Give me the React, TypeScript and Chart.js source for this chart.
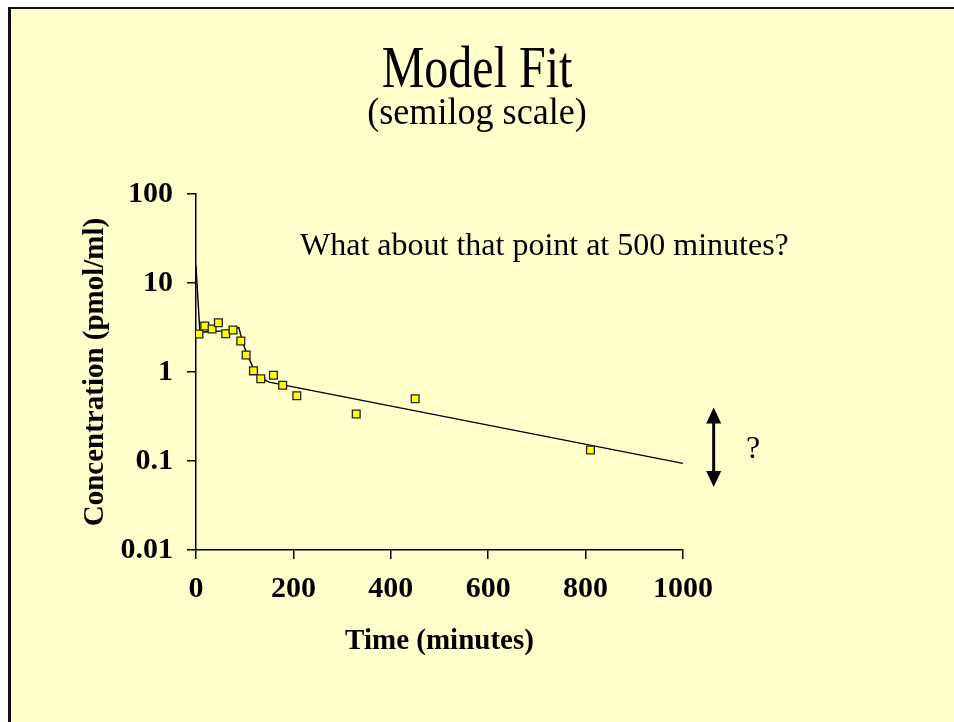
import React, { useEffect, useRef } from "react";
import { Chart, registerables } from "chart.js";

Chart.register(...registerables);

// Observed concentrations (pmol/ml) at sample times (minutes)
const TIME_OBS = [6, 18, 33, 46, 61, 76, 92, 103, 118, 133, 159, 178, 207, 329, 450, 810];
const CONC_OBS = [2.67, 3.29, 3.04, 3.58, 2.69, 2.96, 2.23, 1.55, 1.03, 0.84, 0.92, 0.71, 0.54, 0.337, 0.5, 0.133];

// Model fit curve
const TIME_FIT = [0, 8, 30, 60, 88, 92, 97, 104, 112, 120, 130, 140, 150, 1000];
const CONC_FIT = [15.5, 2.8, 2.85, 2.9, 3.15, 2.6, 2.05, 1.65, 1.3, 1.03, 0.9, 0.82, 0.77, 0.094];

// Axis ticks
const X_TICKS = [0, 200, 400, 600, 800, 1000];
const X_TICK_LABELS = ["0", "200", "400", "600", "800", "1000"];
const Y_TICKS = [0.01, 0.1, 1, 10, 100];
const Y_TICK_LABELS = ["0.01", "0.1", "1", "10", "100"];

const TITLE = "Model Fit";
const SUBTITLE = "(semilog scale)";
const NOTE = "What about that point at 500 minutes?";
const X_TITLE = "Time (minutes)";
const Y_TITLE = "Concentration (pmol/ml)";

// Double arrow annotation (data units)
const ARROW_X = 1063;
const ARROW_TOP = 0.4;
const ARROW_BOTTOM = 0.051;

const SERIF = "'Liberation Serif', 'Times New Roman', Times, serif";

function condensedText(ctx: any, text: string, x: number, y: number, sx: number) {
  ctx.save();
  ctx.translate(x, y);
  ctx.scale(sx, 1);
  ctx.fillText(text, 0, 0);
  ctx.restore();
}

const textPlugin = {
  id: "slideText",
  afterDraw(chart: any) {
    const ctx = chart.ctx;
    const xs = chart.scales.x;
    const ys = chart.scales.y;
    ctx.save();
    ctx.fillStyle = "#000";
    ctx.textBaseline = "alphabetic";
    ctx.textAlign = "center";
    ctx.font = `60px ${SERIF}`;
    condensedText(ctx, TITLE, 477, 87, 0.8);
    ctx.font = `38px ${SERIF}`;
    condensedText(ctx, SUBTITLE, 477, 124, 0.95);
    ctx.textAlign = "left";
    ctx.font = `32px ${SERIF}`;
    ctx.fillText(NOTE, 300, 255);
    // arrow
    const ax = xs.getPixelForValue(ARROW_X);
    const at = ys.getPixelForValue(ARROW_TOP);
    const ab = ys.getPixelForValue(ARROW_BOTTOM);
    ctx.strokeStyle = "#000";
    ctx.lineWidth = 3;
    ctx.beginPath();
    ctx.moveTo(ax, at + 10);
    ctx.lineTo(ax, ab - 10);
    ctx.stroke();
    ctx.beginPath();
    ctx.moveTo(ax, at);
    ctx.lineTo(ax - 7.5, at + 16);
    ctx.lineTo(ax + 7.5, at + 16);
    ctx.closePath();
    ctx.fill();
    ctx.beginPath();
    ctx.moveTo(ax, ab);
    ctx.lineTo(ax - 7.5, ab - 16);
    ctx.lineTo(ax + 7.5, ab - 16);
    ctx.closePath();
    ctx.fill();
    ctx.font = `32px ${SERIF}`;
    ctx.fillText("?", 746, 458);
    ctx.restore();
  },
};

export default function App() {
  const ref = useRef<HTMLCanvasElement | null>(null);

  useEffect(() => {
    document.body.style.margin = "0";
    const canvas = ref.current;
    if (!canvas) return;
    const chart = new Chart(canvas, {
      type: "scatter",
      data: {
        datasets: [
          {
            label: "Observed",
            data: TIME_OBS.map((t, i) => ({ x: t, y: CONC_OBS[i] })),
            pointStyle: "rect",
            pointRadius: 5.5,
            backgroundColor: "#FFFF00",
            borderColor: "#222",
            borderWidth: 1.3,
            showLine: false,
          },
          {
            label: "Model",
            data: TIME_FIT.map((t, i) => ({ x: t, y: CONC_FIT[i] })),
            showLine: true,
            pointRadius: 0,
            borderColor: "#000",
            borderWidth: 1.4,
            tension: 0,
          },
        ],
      },
      options: {
        animation: false,
        responsive: false,
        devicePixelRatio: 1,
        layout: { padding: { left: 0, right: 271, top: 194, bottom: 0 } },
        plugins: {
          legend: { display: false },
          tooltip: { enabled: false },
          title: { display: false },
        },
        scales: {
          x: {
            type: "linear",
            min: 0,
            max: 1000,
            afterBuildTicks: (s: any) => {
              s.ticks = X_TICKS.map((v) => ({ value: v }));
            },
            afterFit: (s: any) => {
              s.height = 172;
            },
            ticks: {
              color: "#000",
              font: { family: SERIF, size: 30, weight: "bold" },
              padding: 12,
              maxRotation: 0,
              autoSkip: false,
              callback: (v: any) => {
                const i = X_TICKS.indexOf(Number(v));
                return i >= 0 ? X_TICK_LABELS[i] : "";
              },
            },
            grid: { drawOnChartArea: false, drawTicks: true, tickLength: 9, color: "#000", lineWidth: 1.5 },
            border: { color: "#000", width: 1.5 },
            title: {
              display: true,
              text: X_TITLE,
              color: "#000",
              font: { family: SERIF, size: 29, weight: "bold" },
              padding: { top: 0, bottom: 63 },
            },
          },
          y: {
            type: "logarithmic",
            min: 0.01,
            max: 100,
            afterBuildTicks: (s: any) => {
              s.ticks = Y_TICKS.map((v) => ({ value: v }));
            },
            afterFit: (s: any) => {
              s.width = 196;
            },
            ticks: {
              color: "#000",
              font: { family: SERIF, size: 30, weight: "bold" },
              padding: 14,
              autoSkip: false,
              callback: (v: any) => {
                const i = Y_TICKS.findIndex((t) => Math.abs(t - Number(v)) < 1e-9);
                return i >= 0 ? Y_TICK_LABELS[i] : "";
              },
            },
            grid: { drawOnChartArea: false, drawTicks: true, tickLength: 9, color: "#000", lineWidth: 1.5 },
            border: { color: "#000", width: 1.5 },
            title: {
              display: true,
              text: Y_TITLE,
              color: "#000",
              font: { family: SERIF, size: 29, weight: "bold" },
              padding: { top: 78, bottom: 0 },
            },
          },
        },
      },
      plugins: [textPlugin],
    });
    return () => chart.destroy();
  }, []);

  return (
    <div style={{ position: "relative", width: 954, height: 722, background: "#fff", overflow: "hidden" }}>
      <div
        style={{
          position: "absolute",
          left: 8,
          top: 7,
          width: 960,
          height: 730,
          background: "#FFFFCC",
          borderLeft: "3px solid #111",
          borderTop: "2px solid #111",
        }}
      />
      <canvas ref={ref} width={954} height={722} style={{ position: "absolute", left: 0, top: 0, width: 954, height: 722 }} />
    </div>
  );
}
